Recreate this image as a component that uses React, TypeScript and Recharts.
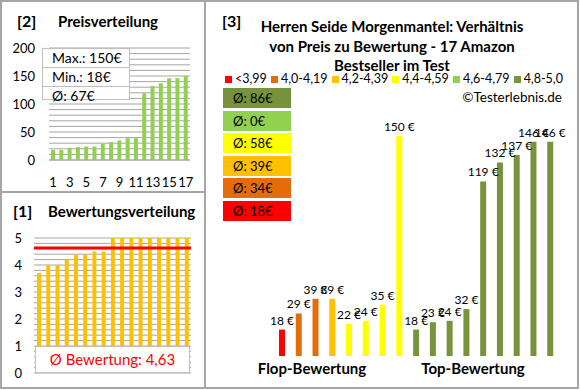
import { Bar, BarChart, CartesianGrid, Cell, LabelList, ReferenceLine, XAxis, YAxis } from 'recharts';

// Preisverteilung (sorted by price)
const ranks = [1, 2, 3, 4, 5, 6, 7, 8, 9, 10, 11, 12, 13, 14, 15, 16, 17];
const pricesSorted = [18, 18, 22, 23, 24, 24, 29, 32, 35, 39, 39, 119, 132, 137, 146, 146, 150];

// Bewertungsverteilung (sorted by rating)
const ratingsSorted = [3.7, 4.0, 4.0, 4.2, 4.4, 4.4, 4.5, 4.5, 5, 5, 5, 5, 5, 5, 5, 5, 5];

// Preis zu Bewertung (products ordered by rating, then price)
const productPrices = [18, 29, 39, 39, 22, 24, 35, 150, 18, 23, 24, 32, 119, 132, 137, 146, 146];
const productRatings = [3.7, 4.0, 4.0, 4.2, 4.4, 4.4, 4.5, 4.5, 5, 5, 5, 5, 5, 5, 5, 5, 5];

const classLabels = ['<3,99', '4,0-4,19', '4,2-4,39', '4,4-4,59', '4,6-4,79', '4,8-5,0'];
const classColors = ['#ff0000', '#e46c0a', '#ffc000', '#ffff00', '#92d050', '#77933c'];
const classLimits = [4.0, 4.2, 4.4, 4.6, 4.8];

const priceTicks = [0, 10, 20, 30, 40, 50, 60, 70, 80, 90, 100, 110, 120, 130, 140, 150, 160, 170, 180, 190, 200];
const ratingTicks = [0, 0.2, 0.4, 0.6, 0.8, 1, 1.2, 1.4, 1.6, 1.8, 2, 2.2, 2.4, 2.6, 2.8, 3, 3.2, 3.4, 3.6, 3.8, 4, 4.2, 4.4, 4.6, 4.8, 5];

const FONT = 'Lato, "Open Sans", sans-serif';
const GRID = '#a6a6a6';

const classOf = (r: number) => {
  const i = classLimits.findIndex((l) => r < l);
  return i === -1 ? classLimits.length : i;
};

const priceData = ranks.map((rank, i) => ({ rank, price: pricesSorted[i] }));
const ratingData = ranks.map((rank, i) => ({ rank, rating: ratingsSorted[i] }));
const productData = ranks.map((rank, i) => ({ rank, price: productPrices[i], cls: classOf(productRatings[i]) }));

const maxPrice = Math.max(...pricesSorted);
const minPrice = Math.min(...pricesSorted);
const avgPrice = Math.round(pricesSorted.reduce((a, b) => a + b, 0) / pricesSorted.length);
const avgRating = ratingsSorted.reduce((a, b) => a + b, 0) / ratingsSorted.length;

const classAvg = classLabels.map((_, c) => {
  const vals = productData.filter((d) => d.cls === c).map((d) => d.price);
  return vals.length ? Math.round(vals.reduce((a, b) => a + b, 0) / vals.length) : 0;
});

const Txt = ({ x, y, size = 13, bold = false, color = '#000', align = 'left', children }: any) => {
  const style: any = {
    position: 'absolute',
    top: y - size * 0.6,
    fontSize: size,
    lineHeight: `${size * 1.2}px`,
    fontWeight: bold ? 700 : 400,
    color,
    whiteSpace: 'nowrap',
  };
  if (align === 'center') {
    style.left = x;
    style.transform = 'translateX(-50%)';
  } else if (align === 'right') {
    style.right = 580 - x;
  } else {
    style.left = x;
  }
  return <div style={style}>{children}</div>;
};

const tickStyle = { fontSize: 13, fill: '#000', fontFamily: FONT };

const PriceLabel = (props: any) => {
  const { x, y, width, value } = props;
  return (
    <text x={x + width / 2} y={y - 5} textAnchor="middle" fontSize={12} fill="#000" fontFamily={FONT}>
      {`${value} €`}
    </text>
  );
};

export default function App() {
  return (
    <div style={{ position: 'absolute', left: 0, top: 0, width: 580, height: 390, background: '#fff', fontFamily: FONT, overflow: 'hidden' }}>
      {/* Preisverteilung */}
      <div style={{ position: 'absolute', left: 0, top: 0 }}>
        <BarChart width={200} height={195} data={priceData} margin={{ top: 48, right: 10, bottom: 5, left: 9 }} barCategoryGap={0}>
          <CartesianGrid vertical={false} stroke={GRID} />
          <XAxis dataKey="rank" interval={1} tickLine={false} tickSize={0} tickMargin={18} height={30} stroke={GRID} tick={tickStyle} />
          <YAxis domain={[0, 200]} ticks={priceTicks} interval={0} axisLine={false} tickLine={false} tickSize={0} tickMargin={14} width={40}
            tick={tickStyle} tickFormatter={(v: number) => (v % 50 === 0 ? String(v) : '')} />
          <Bar dataKey="price" fill="#92d050" barSize={4} isAnimationActive={false} />
        </BarChart>
      </div>
      <div style={{ position: 'absolute', left: 42, top: 48, width: 88, height: 52, background: '#fff', border: '1px solid #bfbfbf', boxSizing: 'border-box' }}>
        {[`Max.: ${maxPrice}€`, `Min.: ${minPrice}€`, `Ø: ${avgPrice}€`].map((s, i) => (
          <div key={s} style={{ height: i < 2 ? 18 : 14, lineHeight: '18px', fontSize: 14, paddingLeft: 9, borderTop: i ? '1px solid #bfbfbf' : 'none', whiteSpace: 'nowrap' }}>{s}</div>
        ))}
      </div>
      <Txt x={17} y={21} size={16} bold>[2]</Txt>
      <Txt x={58} y={21} size={15} bold>Preisverteilung</Txt>

      {/* Bewertungsverteilung */}
      <div style={{ position: 'absolute', left: 0, top: 195 }}>
        <BarChart width={200} height={195} data={ratingData} margin={{ top: 43, right: 9, bottom: 17, left: 4 }} barCategoryGap={0}>
          <CartesianGrid vertical={false} stroke={GRID} />
          <XAxis dataKey="rank" hide />
          <YAxis domain={[0, 5]} ticks={ratingTicks} interval={0} axisLine={false} tickLine={false} tickSize={0} tickMargin={12} width={30}
            tick={tickStyle} tickFormatter={(v: number) => (Math.abs(v - Math.round(v)) < 0.01 ? String(Math.round(v)) : '')} />
          <Bar dataKey="rating" fill="#ffc000" barSize={4} isAnimationActive={false} />
          <ReferenceLine y={avgRating} stroke="#ff0000" strokeWidth={3} />
        </BarChart>
      </div>
      <div style={{ position: 'absolute', left: 35, top: 346, width: 155, height: 27, background: '#fff', border: '1px solid #bfbfbf', boxSizing: 'border-box',
        color: '#ff0000', fontSize: 15, lineHeight: '25px', textAlign: 'center', whiteSpace: 'nowrap' }}>
        Ø Bewertung: {avgRating.toFixed(2).replace('.', ',')}
      </div>
      <Txt x={13} y={211} size={16} bold>[1]</Txt>
      <Txt x={48} y={211} size={15} bold>Bewertungsverteilung</Txt>

      {/* Preis zu Bewertung */}
      <div style={{ position: 'absolute', left: 205, top: 0 }}>
        <BarChart width={375} height={390} data={productData} margin={{ top: 136, right: 21, bottom: 34, left: 69 }} barCategoryGap={0}>
          <XAxis dataKey="rank" hide />
          <YAxis domain={[0, 150]} allowDataOverflow hide />
          <Bar dataKey="price" barSize={6} isAnimationActive={false}>
            {productData.map((d) => (
              <Cell key={d.rank} fill={classColors[d.cls]} />
            ))}
            <LabelList dataKey="price" content={PriceLabel} />
          </Bar>
        </BarChart>
      </div>
      <Txt x={222} y={21} size={16} bold>[3]</Txt>
      <Txt x={392} y={26} size={15} bold align="center">Herren Seide Morgenmantel: Verhältnis</Txt>
      <Txt x={392} y={46} size={15} bold align="center">von Preis zu Bewertung - 17 Amazon</Txt>
      <Txt x={392} y={65} size={15} bold align="center">Bestseller im Test</Txt>
      <div style={{ position: 'absolute', left: 225, top: 71, width: 338, display: 'flex', justifyContent: 'space-between', fontSize: 12.5, lineHeight: '16px', whiteSpace: 'nowrap' }}>
        {classLabels.map((l, i) => (
          <div key={l} style={{ display: 'flex', alignItems: 'center', gap: 3, flexShrink: 0 }}>
            <div style={{ width: 7, height: 7, background: classColors[i] }} />
            <span>{l}</span>
          </div>
        ))}
      </div>
      <Txt x={562} y={97} size={13.5} align="right">©Testerlebnis.de</Txt>
      {classColors.map((_, k) => {
        const c = classColors.length - 1 - k;
        return (
          <div key={c} style={{ position: 'absolute', left: 223, top: 88 + k * 22.6, width: 68, height: 20, background: c === 5 ? '#76923c' : classColors[c],
            fontSize: 13, lineHeight: '20px', paddingLeft: 10, boxSizing: 'border-box', whiteSpace: 'nowrap' }}>
            Ø: {classAvg[c]}€
          </div>
        );
      })}
      <Txt x={312} y={368} size={15} bold align="center">Flop-Bewertung</Txt>
      <Txt x={473} y={368} size={15} bold align="center">Top-Bewertung</Txt>

      {/* frames */}
      <div style={{ position: 'absolute', left: 0, top: 0, width: 579, height: 389, border: '2px solid #a6a6a6', boxSizing: 'border-box' }} />
      <div style={{ position: 'absolute', left: 204, top: 0, width: 2, height: 389, background: '#a6a6a6' }} />
      <div style={{ position: 'absolute', left: 0, top: 191, width: 205, height: 2, background: '#a6a6a6' }} />
    </div>
  );
}
